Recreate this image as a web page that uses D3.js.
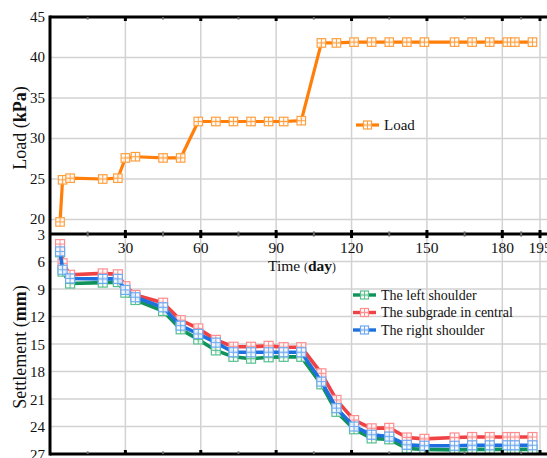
<!doctype html>
<meta charset="utf-8">
<head>
<script src="https://d3js.org/d3.v7.min.js"></script>
<style>
  body { margin: 0; background: #fff; }
</style>
</head>
<body>
<svg width="547" height="458" font-family="Liberation Serif, Times New Roman, DejaVu Serif, serif"></svg>
<script>
    // data
    let days = [4, 5, 8, 21, 27, 30, 34, 45, 52, 59, 66, 73, 80, 87, 93, 100,
                108, 114, 121, 128, 135, 142, 149, 161, 168, 175, 182, 185, 192];
    let load = [19.7, 24.9, 25.1, 25.0, 25.1, 27.6, 27.75, 27.6, 27.6, 32.1, 32.1, 32.1, 32.1, 32.1, 32.1, 32.2,
                41.8, 41.8, 41.9, 41.9, 41.9, 41.9, 41.9, 41.9, 41.9, 41.9, 41.9, 41.9, 41.9];
    let leftShoulder = [5.0, 7.1, 8.4, 8.3, 8.25, 9.4, 10.2, 11.4, 13.4, 14.5, 15.7, 16.4, 16.6, 16.45, 16.4, 16.4,
                19.4, 22.4, 24.3, 25.3, 25.4, 26.4, 26.5, 26.55, 26.5, 26.5, 26.5, 26.5, 26.5];
    let central = [4.1, 6.2, 7.45, 7.3, 7.4, 8.7, 9.65, 10.5, 12.4, 13.3, 14.55, 15.3, 15.3, 15.2, 15.35, 15.35,
                18.2, 21.1, 23.3, 24.2, 24.15, 25.2, 25.35, 25.2, 25.15, 25.15, 25.15, 25.15, 25.15];
    let rightShoulder = [4.9, 6.9, 7.85, 7.9, 7.9, 9.1, 9.9, 11.0, 13.0, 13.9, 14.85, 15.9, 15.9, 15.9, 15.9, 15.9,
                19.1, 22.0, 24.0, 24.9, 25.1, 26.0, 26.1, 26.1, 26.05, 26.05, 26.05, 26.05, 26.05];

    let xTicks = [30, 60, 90, 120, 150, 180, 195];
    let xMinor = [15, 45, 75, 105, 135, 165, 187.5];
    let loadTicks = [20, 25, 30, 35, 40, 45];
    let settleTicks = [3, 6, 9, 12, 15, 18, 21, 24, 27];

    let series = [
        { name: "The left shoulder", values: leftShoulder, color: "#10935a", light: "#58c08e" },
        { name: "The subgrade in central", values: central, color: "#ef4245", light: "#ff8d8f" },
        { name: "The right shoulder", values: rightShoulder, color: "#1d70dd", light: "#6eaaf2" }
    ];

    let svg = d3.select("svg");
    let left = 50, right = 560;
    let topY0 = 17, midY = 234, botY1 = 454;

    let x = d3.scaleLinear().domain([0, 195]).range([50, 540]);
    let yLoad = d3.scaleLinear().domain([20, 45]).range([219.5, 17]);
    let ySet = d3.scaleLinear().domain([3, 27]).range([234, 454]);

    let gridColor = "#d2d2d2";

    // grids
    let grid = svg.append("g");
    [[topY0, midY], [midY, botY1]].forEach(([a, b]) => {
        grid.selectAll(null).data(xTicks).enter().append("line")
            .attr("x1", d => x(d)).attr("x2", d => x(d))
            .attr("y1", a).attr("y2", b)
            .attr("stroke", gridColor).attr("stroke-width", 1.5);
    });
    grid.selectAll(null).data(loadTicks.slice(0, -1)).enter().append("line")
        .attr("x1", left).attr("x2", right)
        .attr("y1", d => yLoad(d)).attr("y2", d => yLoad(d))
        .attr("stroke", gridColor).attr("stroke-width", 1.5);
    grid.selectAll(null).data(settleTicks.slice(1, -1)).enter().append("line")
        .attr("x1", left).attr("x2", right)
        .attr("y1", d => ySet(d)).attr("y2", d => ySet(d))
        .attr("stroke", gridColor).attr("stroke-width", 1.5);

    // marker: square with a cross
    function marker(g, cx, cy, col, s) {
        let h = s / 2;
        g.append("rect").attr("x", cx - h).attr("y", cy - h).attr("width", s).attr("height", s)
            .attr("fill", "#fff").attr("fill-opacity", 0.85).attr("stroke", col).attr("stroke-width", 1.2);
        g.append("line").attr("x1", cx - h).attr("x2", cx + h).attr("y1", cy).attr("y2", cy)
            .attr("stroke", col).attr("stroke-width", 1);
        g.append("line").attr("x1", cx).attr("x2", cx).attr("y1", cy - h).attr("y2", cy + h)
            .attr("stroke", col).attr("stroke-width", 1);
    }

    // load line
    let loadData = days.map((d, i) => [d, load[i]]);
    let loadLine = d3.line().x(d => x(d[0])).y(d => yLoad(d[1]));
    svg.append("path").datum(loadData)
        .attr("d", loadLine).attr("fill", "none")
        .attr("stroke", "#ff7f0a").attr("stroke-width", 3.2).attr("stroke-linejoin", "round");
    let lm = svg.append("g");
    loadData.forEach(d => marker(lm, x(d[0]), yLoad(d[1]), "#ffa040", 8.5));

    // settlement lines
    let setLine = d3.line().x(d => x(d[0])).y(d => ySet(d[1]));
    series.forEach(s => {
        let pts = days.map((d, i) => [d, s.values[i]]);
        svg.append("path").datum(pts)
            .attr("d", setLine).attr("fill", "none")
            .attr("stroke", s.color).attr("stroke-width", 3.6).attr("stroke-linejoin", "round");
        let mg = svg.append("g");
        pts.forEach(d => marker(mg, x(d[0]), ySet(d[1]), s.light, 9));
    });

    // frames
    let frame = svg.append("g").attr("fill", "none").attr("stroke", "#000").attr("stroke-width", 3);
    frame.append("line").attr("x1", left).attr("x2", right).attr("y1", topY0).attr("y2", topY0);
    frame.append("line").attr("x1", left).attr("x2", right).attr("y1", midY).attr("y2", midY);
    frame.append("line").attr("x1", left).attr("x2", right).attr("y1", botY1).attr("y2", botY1);
    frame.append("line").attr("x1", left).attr("x2", left).attr("y1", topY0 - 1.5).attr("y2", botY1 + 1.5);

    // tick marks on horizontal borders
    let tk = svg.append("g");
    [[topY0, 1], [midY, -1], [midY, 1], [botY1, -1]].forEach(([yy, dir]) => {
        tk.selectAll(null).data(xTicks).enter().append("rect")
            .attr("x", d => x(d) - 1.5).attr("y", dir > 0 ? yy : yy - 4)
            .attr("width", 3).attr("height", 4).attr("fill", "#000");
        tk.selectAll(null).data(xMinor).enter().append("rect")
            .attr("x", d => x(d) - 1).attr("y", dir > 0 ? yy : yy - 2.5)
            .attr("width", 2).attr("height", 2.5).attr("fill", "#666");
    });

    // tick labels
    let fill = "#111";
    svg.append("g").selectAll(null).data(loadTicks).enter().append("text")
        .attr("x", 45).attr("y", d => yLoad(d) + 4.5).attr("fill", fill)
        .attr("text-anchor", "end").attr("font-size", 15).text(d => d);
    svg.append("g").selectAll(null).data(settleTicks).enter().append("text")
        .attr("x", 45).attr("y", d => ySet(d) + 5.5).attr("fill", fill)
        .attr("text-anchor", "end").attr("font-size", 15).text(d => d);
    svg.append("g").selectAll(null).data(xTicks).enter().append("text")
        .attr("x", d => x(d)).attr("y", 253).attr("fill", fill)
        .attr("text-anchor", "middle").attr("font-size", 15.5).text(d => d);

    // axis titles
    let tx = svg.append("text").attr("x", 268).attr("y", 271).attr("font-size", 15.5).attr("fill", fill);
    tx.append("tspan").text("Time ");
    tx.append("tspan").attr("font-size", 11.5).text("(");
    tx.append("tspan").attr("font-weight", "bold").text("day");
    tx.append("tspan").attr("font-size", 11.5).text(")");

    let ty1 = svg.append("text").attr("transform", "translate(26,128) rotate(-90)").attr("fill", fill)
        .attr("text-anchor", "middle").attr("font-size", 18);
    ty1.append("tspan").text("Load (");
    ty1.append("tspan").attr("font-weight", "bold").text("kPa");
    ty1.append("tspan").text(")");

    let ty2 = svg.append("text").attr("transform", "translate(26,347) rotate(-90)").attr("fill", fill)
        .attr("text-anchor", "middle").attr("font-size", 18);
    ty2.append("tspan").text("Settlement (");
    ty2.append("tspan").attr("font-weight", "bold").text("mm");
    ty2.append("tspan").text(")");

    // legends
    let lg = svg.append("g");
    lg.append("line").attr("x1", 356).attr("x2", 379).attr("y1", 125).attr("y2", 125)
        .attr("stroke", "#ff7f0a").attr("stroke-width", 3.2);
    marker(lg, 367.5, 125, "#ffa040", 8);
    lg.append("text").attr("x", 384).attr("y", 130).attr("font-size", 15).attr("fill", fill).text("Load");

    let legY = [295, 312.5, 330];
    series.forEach((s, i) => {
        lg.append("line").attr("x1", 353).attr("x2", 376).attr("y1", legY[i]).attr("y2", legY[i])
            .attr("stroke", s.color).attr("stroke-width", 3.4);
        marker(lg, 364.5, legY[i], s.light, 8);
        lg.append("text").attr("x", 381).attr("y", legY[i] + 4.5).attr("font-size", 14).attr("fill", fill).text(s.name);
    });
</script>
</body>
